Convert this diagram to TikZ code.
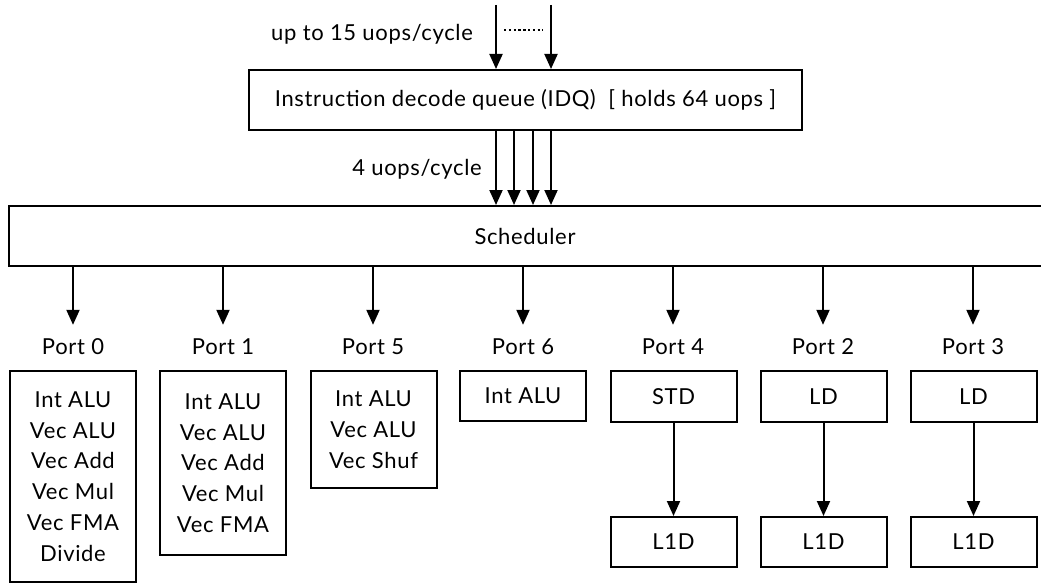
\documentclass[tikz,border=0pt]{standalone}
\usepackage{fontspec}
\setmainfont{Lato}[LetterSpace=3]
\usetikzlibrary{arrows.meta,calc}
\begin{document}
\begin{tikzpicture}[x=1pt,y=-1pt,
  every node/.style={font=\fontsize{22}{30.8}\selectfont},
  box/.style={draw,line width=2pt,inner sep=0pt,align=center,minimum width=126pt},
  lbl/.style={inner sep=0pt,align=center},
  arr/.style={line width=2pt,-{Triangle[width=13pt,length=15pt]}}]
\useasboundingbox (0,0) rectangle (1041,583);
\clip (0,0) rectangle (1041,583);
% top
\coordinate (t1) at (496,5);
\coordinate (t2) at (551,5);
\coordinate (d1) at (504,30);
\coordinate (d2) at (543,30);
\node[lbl] (uptxt) at (372,34) {up to 15 uops/cycle};
\node[box,minimum width=553pt,minimum height=60pt] (idq) at (525.5,100) {Instruction decode queue (IDQ)\ \ [ holds 64 uops ]};
\draw[arr] (t1) -- (t1 |- idq.north);
\draw[arr] (t2) -- (t2 |- idq.north);
\draw[line width=2.4pt,dash pattern=on 2.4pt off 2.4pt] (d1) -- (d2);
\node[lbl] (fourtxt) at (417,169) {4 uops/cycle};
\node[box,minimum width=1038pt,minimum height=60pt] (sched) at (528,236) {};
\node[lbl] (schedtxt) at (525,236) {Scheduler};
\foreach \x in {496,514,533,551}
  \draw[arr] (idq.south -| \x,0) -- (sched.north -| \x,0);
% port labels
\foreach \n/\x/\t in {p0/73/Port 0,p1/223/Port 1,p5/373/Port 5,p6/523/Port 6,p4/673/Port 4,p2/823/Port 2,p3/973/Port 3}{
  \node[lbl,minimum height=44pt] (\n) at (\x,347) {\t};
  \draw[arr] (sched.south -| \n) -- (\n.north);
}
% unit boxes
\node[box,minimum height=211pt] (u0) at (73,476.5) {Int ALU\\Vec ALU\\Vec Add\\Vec Mul\\Vec FMA\\Divide};
\node[box,minimum height=184pt] (u1) at (223,463) {Int ALU\\Vec ALU\\Vec Add\\Vec Mul\\Vec FMA};
\node[box,minimum height=117pt] (u5) at (373.5,429.5) {Int ALU\\Vec ALU\\Vec Shuf};
\node[box,minimum height=50pt] (u6) at (523,396) {Int ALU};
\node[box,minimum height=51pt] (u4) at (673.5,396.5) {STD};
\node[box,minimum height=51pt] (u2) at (823.5,396.5) {LD};
\node[box,minimum height=51pt] (u3) at (973.5,396.5) {LD};
\node[box,minimum height=50pt] (l4) at (673.5,542) {L1D};
\node[box,minimum height=50pt] (l2) at (823.5,542) {L1D};
\node[box,minimum height=50pt] (l3) at (973.5,542) {L1D};
\draw[arr] (u4) -- (l4);
\draw[arr] (u2) -- (l2);
\draw[arr] (u3) -- (l3);
\end{tikzpicture}
\end{document}
